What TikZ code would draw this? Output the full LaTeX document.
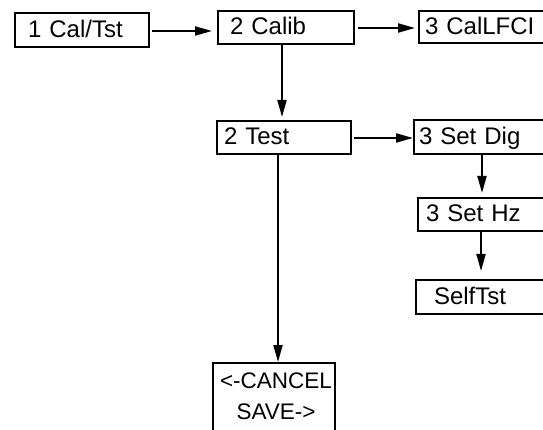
\documentclass[tikz,border=0pt]{standalone}
\usepackage{fontspec}
\setmainfont{Liberation Sans}
\usetikzlibrary{arrows.meta,calc}
\tikzset{
  box/.style={draw, line width=2pt, rectangle, anchor=north west, align=left,
    font=\fontsize{24}{31}\selectfont, text height=17pt, text depth=2pt, inner ysep=0pt},
  arr/.style={line width=2pt, -{Triangle[length=17pt,width=9pt]}},
}
\begin{document}
\begin{tikzpicture}[x=1pt,y=-1pt]
\useasboundingbox (0,0) rectangle (543,430);
\clip (0,0) rectangle (543,430);
% boxes: left/top corner, width, height, text offset
\node[box, minimum width=134pt, minimum height=34pt, inner xsep=13pt, text width=108pt] (n1) at (14,12) {1 Cal/Tst};
\node[box, minimum width=136pt, minimum height=33pt, inner xsep=12pt, text width=112pt] (n2) at (217,10) {2 Calib};
\node[box, minimum width=140pt, minimum height=32pt, inner xsep=6pt, text width=128pt] (n3) at (418,10) {3 CalLFCI};
\node[box, minimum width=134pt, minimum height=33pt, inner xsep=7pt, text width=120pt] (t2) at (216,120) {2 Test};
\node[box, minimum width=145pt, minimum height=34pt, inner xsep=5pt, text width=135pt] (d3) at (413,119) {3 Set Dig};
\node[box, minimum width=141pt, minimum height=33pt, inner xsep=8pt, text width=125pt] (h3) at (417,197) {3 Set Hz};
\node[box, minimum width=143pt, minimum height=34pt, inner xsep=18pt, text width=107pt] (st) at (415,279) {SelfTst};
\node[box, draw=none, align=center, anchor=north, text width=122pt, inner xsep=0pt,
  font=\fontsize{22.5}{31}\selectfont,
  text height=17pt, text depth=0pt, inner ysep=7pt] (cs) at (276,363) {<-CANCEL\\SAVE->};
\draw[line width=2pt] (213,363) rectangle (335,445);
% connectors
\draw[arr, shorten <=2pt, shorten >=5pt] (n1.east |- 0,31) -- (n2.west |- 0,31);
\draw[arr, shorten <=3pt, shorten >=3pt] (n2.east |- 0,28) -- (n3.west |- 0,28);
\draw[arr, shorten >=3pt] (n2.south -| 282,0) -- (t2.north -| 282,0);
\draw[arr, shorten <=2pt] (t2.east |- 0,138) -- (d3.west |- 0,138);
\draw[arr, shorten >=4pt] (d3.south -| 482,0) -- (h3.north -| 482,0);
\draw[arr, shorten >=8pt] (h3.south -| 481,0) -- (st.north -| 481,0);
\draw[arr, shorten >=1pt] (t2.south -| 278,0) -- (cs.north -| 278,0);
\end{tikzpicture}
\end{document}
